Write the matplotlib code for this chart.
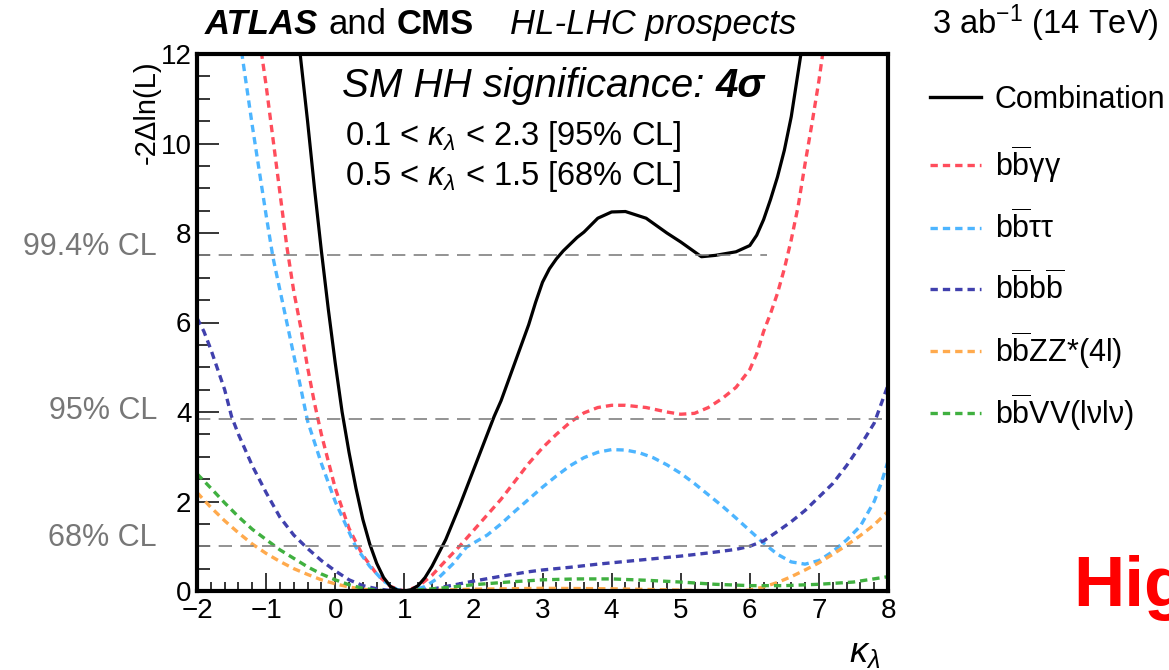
import numpy as np
import matplotlib
matplotlib.use("Agg")
import matplotlib.pyplot as plt
from matplotlib.lines import Line2D
from matplotlib.ticker import MultipleLocator
from matplotlib.transforms import blended_transform_factory

plt.rcParams["font.family"] = ["Liberation Sans", "DejaVu Sans"]
plt.rcParams["mathtext.fontset"] = "custom"
plt.rcParams["mathtext.rm"] = "Liberation Sans"
plt.rcParams["mathtext.it"] = "Liberation Sans:italic"
plt.rcParams["mathtext.bf"] = "Liberation Sans:bold"

# --- likelihood scans, -2 Delta ln(L) vs kappa_lambda ---
k_comb = [-0.55, -0.5, -0.4, -0.3, -0.2, -0.1, 0.0, 0.1, 0.2, 0.3, 0.4, 0.5, 0.6, 0.7,
          0.8, 0.9, 1.0, 1.1, 1.2, 1.3, 1.4, 1.5, 1.6, 1.8, 2.0, 2.2, 2.3, 2.4, 2.6, 2.8,
          2.9, 3.0, 3.1, 3.2, 3.3, 3.5, 3.6, 3.8, 4.0, 4.2, 4.5, 4.8, 5.0, 5.3, 5.5, 5.8,
          6.0, 6.1, 6.2, 6.3, 6.4, 6.5, 6.6, 6.7, 6.78]
v_comb = [12.6, 11.9, 10.5, 9.0, 7.6, 6.3, 5.1, 4.0, 3.1, 2.3, 1.6, 1.05, 0.62, 0.3,
          0.1, 0.02, 0.0, 0.03, 0.12, 0.3, 0.55, 0.85, 1.15, 1.9, 2.7, 3.5, 3.9, 4.25, 5.1, 5.95,
          6.45, 6.9, 7.2, 7.42, 7.6, 7.9, 8.02, 8.33, 8.47, 8.48, 8.33, 8.0, 7.8, 7.47, 7.5, 7.58,
          7.72, 7.95, 8.3, 8.75, 9.25, 9.85, 10.6, 11.6, 12.4]

k_bbgg = [-1.12, -1.0, -0.9, -0.8, -0.7, -0.6, -0.5, -0.4, -0.3, -0.2, -0.1, 0.0, 0.2, 0.33,
          0.4, 0.6, 0.8, 1.0, 1.2, 1.4, 1.6, 1.8, 2.0, 2.2, 2.4, 2.6, 2.8, 3.0, 3.2, 3.4,
          3.6, 3.8, 4.0, 4.2, 4.5, 4.8, 5.0, 5.2, 5.4, 5.6, 5.8, 6.0, 6.1, 6.2, 6.3, 6.4,
          6.5, 6.6, 6.7, 6.8, 6.9, 7.0, 7.1]
v_bbgg = [12.6, 11.3, 10.1, 8.9, 7.7, 6.7, 5.9, 5.0, 4.2, 3.5, 2.9, 2.3, 1.4, 1.0,
          0.8, 0.38, 0.1, 0.0, 0.1, 0.35, 0.68, 1.0, 1.35, 1.7, 2.05, 2.45, 2.85, 3.2, 3.5, 3.77,
          3.98, 4.1, 4.15, 4.15, 4.1, 4.0, 3.95, 3.97, 4.1, 4.3, 4.55, 4.95, 5.3, 5.8, 6.2, 6.65,
          7.2, 7.85, 8.6, 9.55, 10.45, 11.4, 12.5]

k_bbtt = [-1.4, -1.35, -1.2, -1.0, -0.9, -0.7, -0.5, -0.4, -0.2, 0.0, 0.3, 0.5, 0.7, 0.9,
          1.0, 1.1, 1.3, 1.5, 1.7, 1.9, 2.2, 2.4, 2.6, 2.8, 3.0, 3.2, 3.4, 3.6, 3.8, 4.0,
          4.2, 4.4, 4.6, 4.8, 5.0, 5.2, 5.4, 5.6, 5.8, 6.0, 6.2, 6.4, 6.6, 6.8, 7.0, 7.2,
          7.4, 7.6, 7.8, 7.9, 8.0]
v_bbtt = [12.6, 12.0, 10.4, 8.4, 7.45, 6.0, 4.55, 3.8, 2.85, 2.0, 0.98, 0.55, 0.22, 0.03,
          0.01, 0.0, 0.1, 0.3, 0.6, 0.98, 1.25, 1.5, 1.78, 2.05, 2.32, 2.57, 2.8, 2.98, 3.1, 3.16,
          3.15, 3.09, 2.98, 2.82, 2.63, 2.4, 2.15, 1.9, 1.63, 1.35, 1.07, 0.82, 0.65, 0.6, 0.68, 0.88,
          1.14, 1.45, 2.0, 2.4, 2.9]

k_bbbb = [-2.0, -1.9, -1.8, -1.6, -1.5, -1.4, -1.2, -1.0, -0.8, -0.6, -0.4, -0.2, 0.0, 0.2,
          0.4, 0.6, 0.8, 1.0, 1.2, 1.4, 1.6, 1.8, 2.0, 2.4, 2.8, 3.0, 3.4, 3.8, 4.2, 4.6,
          5.0, 5.4, 5.8, 6.0, 6.2, 6.4, 6.6, 6.8, 7.0, 7.2, 7.4, 7.6, 7.8, 8.0]
v_bbbb = [6.1, 5.8, 5.4, 4.5, 3.9, 3.5, 2.8, 2.2, 1.65, 1.25, 0.95, 0.68, 0.45, 0.25,
          0.12, 0.05, 0.01, 0.0, 0.01, 0.04, 0.1, 0.16, 0.22, 0.33, 0.43, 0.47, 0.53, 0.6, 0.66, 0.72,
          0.78, 0.85, 0.93, 1.0, 1.12, 1.33, 1.55, 1.8, 2.1, 2.4, 2.8, 3.25, 3.75, 4.6]

k_bbzz = [-2.0, -1.8, -1.6, -1.4, -1.2, -1.0, -0.8, -0.6, -0.4, -0.2, 0.0, 0.2, 0.4, 0.6,
          0.8, 1.0, 1.5, 2.0, 3.0, 4.0, 5.0, 5.5, 6.0, 6.2, 6.4, 6.6, 6.8, 7.0, 7.2, 7.4,
          7.6, 7.8, 8.0]
v_bbzz = [2.2, 1.87, 1.57, 1.3, 1.05, 0.84, 0.66, 0.5, 0.37, 0.25, 0.16, 0.09, 0.04, 0.01,
          0.0, 0.0, 0.02, 0.04, 0.06, 0.05, 0.02, 0.0, 0.02, 0.09, 0.19, 0.32, 0.47, 0.63, 0.82, 1.02,
          1.24, 1.48, 1.78]

k_bbvv = [-2.0, -1.8, -1.6, -1.4, -1.2, -1.0, -0.8, -0.6, -0.4, -0.2, 0.0, 0.2, 0.4, 0.6,
          0.8, 1.0, 1.5, 2.0, 2.5, 3.0, 3.5, 4.0, 4.5, 5.0, 5.5, 6.0, 6.5, 7.0, 7.5, 8.0]
v_bbvv = [2.62, 2.3, 1.97, 1.66, 1.38, 1.15, 0.92, 0.73, 0.54, 0.38, 0.25, 0.14, 0.06, 0.02,
          0.0, 0.0, 0.06, 0.14, 0.2, 0.25, 0.27, 0.27, 0.24, 0.2, 0.15, 0.12, 0.12, 0.15, 0.2, 0.32]

cl_values = [1.0, 3.84, 7.5]
cl_xmax = [8.0, 8.0, 6.25]
cl_labels = ["68% CL", "95% CL", "99.4% CL"]

bbar = r"b$\overline{\mathrm{b}}$"
channels = [
    (k_bbgg, v_bbgg, bbar + "γγ", "#ff4d5c"),
    (k_bbtt, v_bbtt, bbar + "ττ", "#4db5ff"),
    (k_bbbb, v_bbbb, bbar + "b" + r"$\overline{\mathrm{b}}$", "#4040ad"),
    (k_bbzz, v_bbzz, bbar + "ZZ*(4l)", "#ffaa4d"),
    (k_bbvv, v_bbvv, bbar + "VV(lνlν)", "#40b040"),
]

W, H = 1169, 670
fig = plt.figure(figsize=(W / 100, H / 100), dpi=100)
ax = fig.add_axes([197 / W, 1 - 591 / H, (888 - 197) / W, (591 - 54) / H])

dash = (0, (2.2, 1.5))
for k, v, label, color in channels:
    ax.plot(k, v, color=color, lw=2.4, ls=dash)
ax.plot(k_comb, v_comb, color="black", lw=2.3)

for val, xmax in zip(cl_values, cl_xmax):
    ax.plot([-2, xmax], [val, val], color="#808080", lw=1.2, ls=(0, (8, 5)))

ax.set_xlim(-2, 8)
ax.set_ylim(0, 12)
ax.xaxis.set_major_locator(MultipleLocator(1))
ax.xaxis.set_minor_locator(MultipleLocator(0.2))
ax.yaxis.set_major_locator(MultipleLocator(2))
ax.yaxis.set_minor_locator(MultipleLocator(0.5))
ax.tick_params(axis="both", which="both", direction="in", width=1.1, labelsize=20)
ax.tick_params(axis="x", which="major", length=13, pad=5)
ax.tick_params(axis="x", which="minor", length=6.5)
ax.tick_params(axis="y", which="major", length=16, pad=4)
ax.tick_params(axis="y", which="minor", length=9)
for sp in ax.spines.values():
    sp.set_linewidth(3)

ax.set_xlabel(r"$\kappa_\lambda$", fontsize=26, loc="right")
ax.xaxis.set_label_coords(0.988, -0.082)
ax.set_ylabel("-2Δln(L)", fontsize=21, loc="top")
ax.yaxis.set_label_coords(-0.052, (591 - 60) / 537)

# confidence-level labels on the left of the frame
trans = blended_transform_factory(ax.transAxes, ax.transData)
for val, lab in zip(cl_values, cl_labels):
    ax.text(-0.058, val, lab, transform=trans, ha="right", va="baseline",
            fontsize=22, color="#777777", clip_on=False)


def chain(x_px, y_px, parts):
    """Write text pieces one after another along a baseline (pixel coords)."""
    x = x_px
    for s, gap, kw in parts:
        x += gap
        t = fig.text(x / W, 1 - y_px / H, s, va="baseline", ha="left", **kw)
        fig.canvas.draw()
        x = t.get_window_extent().x1


chain(205, 34, [("ATLAS", 0, dict(fontsize=25, weight="bold", style="italic")),
                ("and", 10, dict(fontsize=25)),
                ("CMS", 10, dict(fontsize=25, weight="bold")),
                ("HL-LHC prospects", 36, dict(fontsize=25, style="italic"))])
fig.text(932 / W, 1 - 34 / H, r"3 ab$^{\mathregular{-1}}$ (14 TeV)", fontsize=23.5, va="baseline")

chain(342, 97, [("SM HH significance: ", 0, dict(fontsize=29, style="italic")),
                ("4σ", 0, dict(fontsize=29, style="italic", weight="bold"))])
fig.text(345 / W, 1 - 145 / H, r"0.1 < $\kappa_\lambda$ < 2.3 [95% CL]", fontsize=23.5, va="baseline")
fig.text(345 / W, 1 - 185 / H, r"0.5 < $\kappa_\lambda$ < 1.5 [68% CL]", fontsize=23.5, va="baseline")

# legend outside the frame
leg_rows = [97, 165, 228, 289, 351, 413]
leg_items = [("Combination", "black", "-")] + [(c[2], c[3], dash) for c in channels]
for yc, (lab, color, ls) in zip(leg_rows, leg_items):
    fig.add_artist(Line2D([930 / W, 981 / W], [1 - yc / H, 1 - yc / H], color=color,
                          lw=2.4, ls=ls, transform=fig.transFigure))
    fig.text(995 / W, 1 - (yc + 11) / H, lab, fontsize=22, va="baseline")

fig.text(1073 / W, 1 - 606 / H, "Higgs", fontsize=51, weight="bold", color="red", va="baseline")

fig.savefig("out.png", dpi=100)
